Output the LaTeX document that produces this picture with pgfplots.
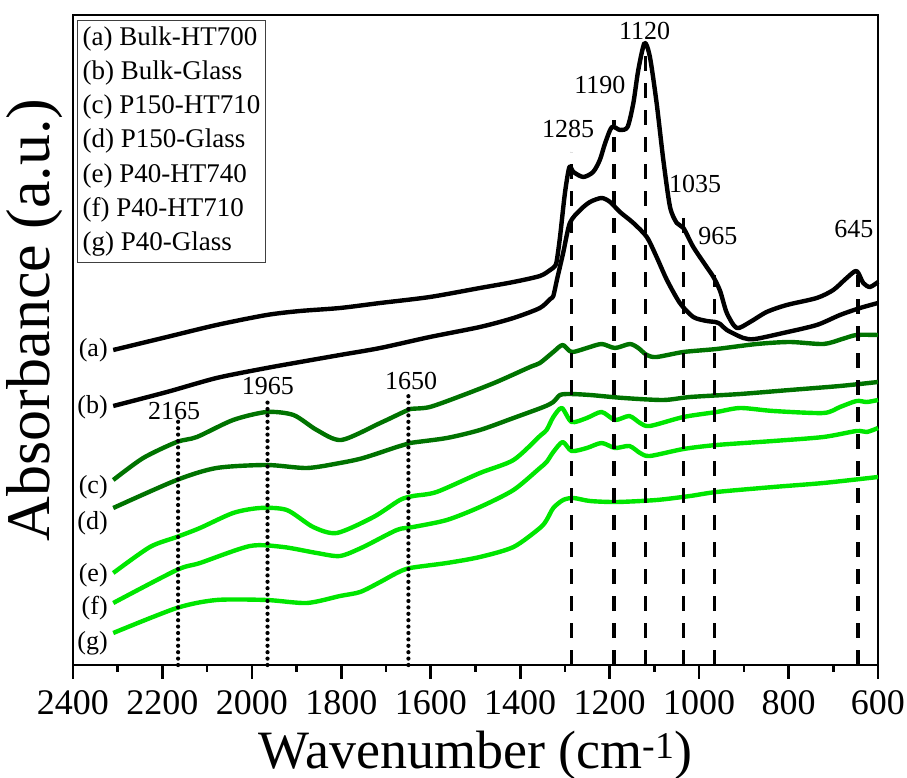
\documentclass[border=0pt]{standalone}
\usepackage{fontspec}
\setmainfont{Liberation Serif}
\usepackage{pgfplots}
\pgfplotsset{compat=1.18}
\definecolor{dg}{RGB}{0,115,0}
\definecolor{lg}{RGB}{0,230,0}
\begin{document}
\begin{tikzpicture}
\useasboundingbox (-73pt,-113pt) rectangle (834pt,665pt);
\begin{axis}[
  at={(0pt,0pt)}, anchor=south west,
  scale only axis, width=805pt, height=650pt,
  xmin=600, xmax=2400, ymin=0, ymax=650, x dir=reverse,
  xtick={600,800,...,2400}, minor x tick num=1, ytick=\empty,
  xtick pos=bottom, tick align=outside,
  major tick length=14pt, minor tick length=7pt,
  tick style={black, line width=2.6pt},
  axis line style={line width=2.6pt},
  /pgf/number format/assume math mode=true,
  /pgf/number format/1000 sep={},
  xticklabel style={font=\fontsize{36}{36}\selectfont, anchor=north, inner sep=0pt, yshift=-11pt},
  xlabel={Wavenumber (cm\textsuperscript{-1})},
  xlabel style={font=\fontsize{54}{54}\selectfont, at={(axis description cs:0.5,-0.1585)}, anchor=base},
  ylabel={Absorbance (a.u.)},
  ylabel style={font=\fontsize{62}{62}\selectfont, at={(axis description cs:-0.0286,0.531)}, anchor=base},
  clip=false,
  curve/.style={smooth, tension=0.45, line width=4.4pt, line join=round},
  vdash/.style={black, sharp plot, line width=3.4pt, dash pattern=on 15pt off 12pt},
  vdot/.style={black, sharp plot, line width=4.2pt, line cap=round, dash pattern=on 0pt off 6.4pt},
]
% (a) Bulk-HT700
\addplot[black, curve] coordinates {(2310,315) (2190,328) (2079,340) (1967,350) (1892,354) (1803,357) (1713,362) (1602,368) (1490,377) (1415,383) (1356,389) (1333,395) (1322,399) (1318,405) (1311,428) (1300,472) (1290,498) (1281,493) (1259,488) (1237,493) (1222,505) (1210,522) (1195,538) (1177,535) (1160,538) (1147,562) (1136,595) (1122,622) (1110,608) (1095,562) (1080,505) (1065,458) (1050,442) (1035,437) (1013,418) (983,398) (968,388) (953,374) (938,352) (916,337) (886,343) (849,353) (804,360) (737,367) (700,375) (670,387) (648,394) (633,382) (618,378) (600,383)};
% (b) Bulk-Glass
\addplot[black, curve] coordinates {(2310,259) (2190,273) (2079,287) (1967,297) (1892,303) (1803,310) (1713,317) (1602,328) (1490,338) (1415,347) (1356,357) (1333,366) (1326,369) (1318,385) (1304,412) (1289,442) (1266,455) (1244,463) (1218,467) (1199,463) (1177,453) (1147,442) (1117,428) (1095,408) (1072,385) (1043,362) (1013,348) (983,344) (964,343) (953,341) (938,335) (901,327) (875,326) (812,332) (737,340) (685,350) (640,357) (600,362)};
% (c) P150-HT710
\addplot[dg, curve] coordinates {(2310,185) (2243,207) (2168,223) (2123,228) (2042,245) (1967,253) (1907,250) (1855,235) (1800,225) (1713,242) (1661,253) (1646,256) (1602,258) (1527,270) (1453,283) (1378,298) (1356,302) (1326,313) (1305,320) (1285,313) (1251,317) (1218,321) (1188,317) (1155,321) (1136,317) (1117,310) (1095,308) (1035,313) (961,316) (871,321) (797,323) (722,321) (680,326) (648,330) (600,330)};
% (d) P150-Glass
\addplot[dg, curve] coordinates {(2310,157) (2168,185) (2079,197) (1967,200) (1877,197) (1803,202) (1751,207) (1676,218) (1646,222) (1564,227) (1490,235) (1415,247) (1348,258) (1326,263) (1311,270) (1289,271) (1244,270) (1169,267) (1080,265) (1020,268) (908,271) (797,275) (685,279) (600,283)};
% (e) P40-HT740
\addplot[lg, curve] coordinates {(2310,92) (2228,118) (2168,128) (2116,137) (2042,152) (1982,157) (1922,155) (1863,138) (1810,132) (1728,148) (1669,165) (1639,169) (1587,173) (1490,192) (1415,205) (1356,229) (1341,235) (1326,248) (1307,257) (1285,243) (1251,247) (1218,253) (1188,245) (1156,249) (1132,242) (1110,239) (1035,248) (961,253) (908,257) (834,254) (722,252) (685,258) (648,264) (625,263) (600,265)};
% (f) P40-HT710
\addplot[lg, curve] coordinates {(2310,62) (2168,95) (2116,102) (2004,119) (1930,118) (1855,112) (1803,109) (1751,118) (1676,135) (1639,138) (1564,145) (1490,158) (1415,175) (1356,197) (1341,203) (1326,213) (1305,223) (1285,214) (1251,217) (1218,222) (1188,217) (1156,219) (1132,212) (1110,209) (1035,216) (961,220) (834,224) (722,228) (648,234) (625,233) (600,237)};
% (g) P40-Glass
\addplot[lg, curve] coordinates {(2310,32) (2168,57) (2079,65) (1967,65) (1877,62) (1803,69) (1758,73) (1713,83) (1676,92) (1646,97) (1564,102) (1490,108) (1415,118) (1356,137) (1341,145) (1326,157) (1304,165) (1281,167) (1244,164) (1184,163) (1095,165) (1020,169) (961,173) (834,178) (722,182) (600,188)};
% dashed band markers
\addplot[vdash] coordinates {(1285,0) (1285,513)};
\addplot[vdash] coordinates {(1190,0) (1190,545)};
\addplot[vdash] coordinates {(1120,0) (1120,612)};
\addplot[vdash] coordinates {(1035,0) (1035,450)};
\addplot[vdash] coordinates {(965,0) (965,390)};
\addplot[vdash] coordinates {(645,0) (645,390)};
% dotted markers
\addplot[vdot] coordinates {(2165,0) (2165,245)};
\addplot[vdot] coordinates {(1965,0) (1965,267)};
\addplot[vdot] coordinates {(1650,0) (1650,273)};
% peak labels
\begin{scope}[every node/.style={font=\fontsize{26}{26}\selectfont, anchor=base, inner sep=0pt}]
\node at (axis cs:1122,625) {1120};
\node at (axis cs:1222,571) {1190};
\node at (axis cs:1293,527) {1285};
\node at (axis cs:1009,472) {1035};
\node at (axis cs:958,420) {965};
\node at (axis cs:654,427) {645};
\node at (axis cs:2174,245) {2165};
\node at (axis cs:1964,270) {1965};
\node at (axis cs:1644,275) {1650};
\end{scope}
% curve labels
\begin{scope}[every node/.style={font=\fontsize{26}{26}\selectfont, anchor=east, inner sep=0pt}]
\node at (axis cs:2322,315) {(a)};
\node at (axis cs:2322,258) {(b)};
\node at (axis cs:2322,178) {(c)};
\node at (axis cs:2322,142) {(d)};
\node at (axis cs:2322,90) {(e)};
\node at (axis cs:2322,57) {(f)};
\node at (axis cs:2322,22) {(g)};
\end{scope}
% legend box
\node[draw=black!75, line width=1.3pt, anchor=north west, align=left, inner xsep=5pt, inner ysep=6pt, font=\fontsize{27}{34.2}\selectfont] at (axis cs:2391,645) {(a) Bulk-HT700\\(b) Bulk-Glass\\(c) P150-HT710\\(d) P150-Glass\\(e) P40-HT740\\(f) P40-HT710\\(g) P40-Glass};
\end{axis}
\end{tikzpicture}
\end{document}
